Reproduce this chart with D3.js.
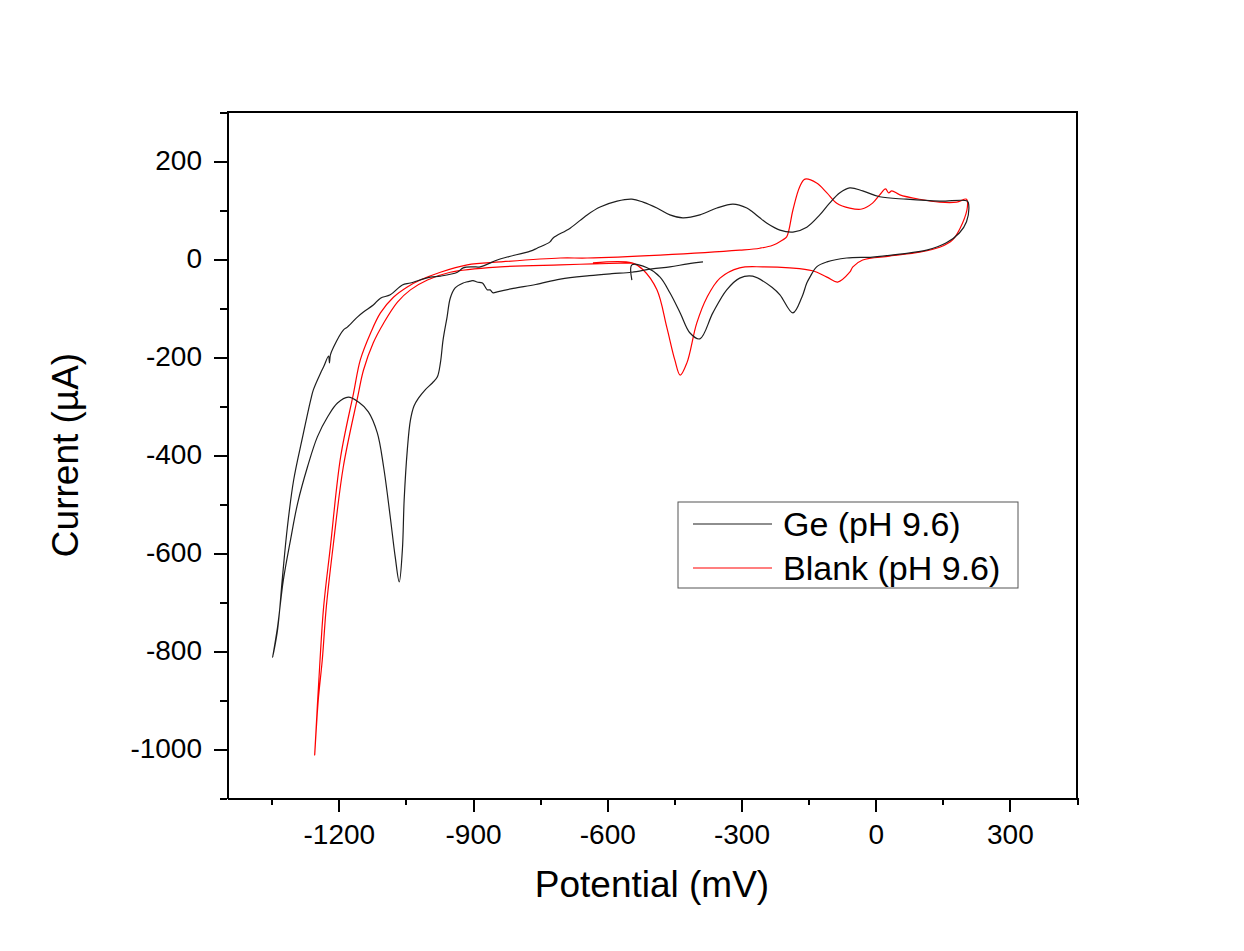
<!DOCTYPE html>
<html lang="en">
<head>
<meta charset="utf-8">
<title>Cyclic voltammogram</title>
<script src="https://cdn.jsdelivr.net/npm/d3@7"></script>
<style>
  body { margin: 0; background: #fff; }
  svg { font-family: "Liberation Sans", Arial, sans-serif; }
  .axis path, .axis line { stroke: #000; stroke-width: 2; shape-rendering: crispEdges; }
  .axis text { font-size: 28px; fill: #000; }
</style>
</head>
<body>
<script>
// data: potential (mV) and current (uA)
var geE = [-386,-420,-460,-500,-545,-590,-640,-705,-760,-810,-846,-855,-862,-868,-879,-891,-900,-906,-915,-922,-940,-951,-958,-967,-973,-980,-991,-1007,-1022,-1032,-1040,-1047,-1054,-1058,-1065,-1074,-1085,-1100,-1114,-1134,-1156,-1179,-1203,-1225,-1248,-1270,-1292,-1308,-1324,-1337,-1348,
  -1337,-1326,-1315,-1301,-1281,-1263,-1257,-1241,-1234,-1223,-1221,-1219,-1212,-1190,-1181,-1158,-1145,-1123,-1107,-1085,-1058,-1040,-996,-973,-935,-922,-900,-884,-846,-824,-772,-757,-728,-721,-683,-645,-616,-578,-545,-520,-489,-460,-431,-393,-355,-319,-288,-275,-259,-243,-214,-185,-154,-125,-103,-80,-58,-29,9,69,143,205,
  208,203,187,158,114,54,-7,-65,-109,-132,-147,-154,-165,-185,-214,-230,-275,-304,-333,-364,-393,-415,-437,-460,-482,-511,-545,-545];
var geI = [-6,-10,-16,-20,-27,-30,-34,-41,-52,-60,-67,-69,-63,-63,-49,-47,-44,-45,-47,-49,-59,-80,-118,-165,-212,-241,-253,-267,-284,-300,-329,-390,-492,-594,-659,-608,-527,-424,-355,-312,-292,-282,-294,-322,-363,-424,-498,-573,-655,-751,-813,
  -757,-649,-547,-451,-363,-288,-267,-233,-220,-198,-212,-196,-180,-145,-139,-118,-108,-94,-80,-73,-53,-49,-37,-35,-27,-18,-16,-16,-2,4,16,22,35,43,63,90,106,118,122,116,104,90,84,90,104,112,104,96,84,73,59,55,65,90,114,135,145,139,127,122,118,118,
  110,76,53,33,18,10,4,2,-6,-16,-37,-49,-78,-110,-73,-59,-35,-39,-63,-110,-163,-151,-110,-69,-37,-18,-12,-43];

var blankE = [-545,-632,-705,-839,-951,-1002,-1040,-1069,-1100,-1123,-1145,-1158,-1190,-1212,-1228,-1237,-1246,-1254,
  -1243,-1234,-1219,-1196,-1167,-1152,-1129,-1107,-1078,-1047,-1018,-973,-913,-839,-705,-645,-482,-304,-259,-230,-208,-199,-185,-170,-158,-132,-109,-87,-58,-31,-7,9,22,29,36,54,98,143,181,203,
  205,194,172,143,98,31,-29,-51,-58,-85,-109,-141,-192,-252,-304,-348,-377,-400,-422,-437,-449,-467,-489,-520,-545,-632];
var blankI = [-8,-10,-12,-16,-27,-43,-63,-88,-131,-171,-227,-282,-424,-580,-710,-818,-900,-1012,
  -833,-710,-588,-404,-273,-206,-151,-110,-78,-57,-43,-27,-12,-6,2,2,8,18,22,28,39,45,100,147,163,155,135,114,104,102,114,131,143,135,139,131,122,116,116,122,
  106,73,39,24,14,6,-2,-16,-27,-47,-37,-24,-18,-16,-18,-39,-78,-131,-212,-237,-206,-139,-63,-22,-8,-8];

var seriesNames = ["Ge (pH 9.6)", "Blank (pH 9.6)"];
var seriesColors = ["#1e1e1e", "#ff0000"];

var xMajor = [-1200, -900, -600, -300, 0, 300];
var xMinor = [-1350, -1050, -750, -450, -150, 150, 450];
var yMajor = [200, 0, -200, -400, -600, -800, -1000];
var yMinor = [300, 100, -100, -300, -500, -700, -900, -1100];

var w = 1244, h = 951;
var plotLeft = 227, plotRight = 1077, plotTop = 112, plotBottom = 798;

var svg = d3.select("body").append("svg").attr("width", w).attr("height", h);

var xScale = d3.scaleLinear().domain([-1450, 450]).range([plotLeft, plotRight]);
var yScale = d3.scaleLinear().domain([-1100, 300]).range([plotBottom, plotTop]);

var fmt = function(d) { return String(d); };

// minor ticks first, then major axes on top
svg.append("g").attr("class", "axis").attr("transform", "translate(0," + plotBottom + ")")
  .call(d3.axisBottom(xScale).tickValues(xMinor).tickSize(7).tickFormat(""))
  .select(".domain").remove();
svg.append("g").attr("class", "axis").attr("transform", "translate(" + plotLeft + ",0)")
  .call(d3.axisLeft(yScale).tickValues(yMinor).tickSize(7).tickFormat(""))
  .select(".domain").remove();

svg.append("g").attr("class", "axis").attr("transform", "translate(0," + plotBottom + ")")
  .call(d3.axisBottom(xScale).tickValues(xMajor).tickSize(14).tickSizeOuter(0).tickPadding(12).tickFormat(fmt));
svg.append("g").attr("class", "axis").attr("transform", "translate(" + plotLeft + ",0)")
  .call(d3.axisLeft(yScale).tickValues(yMajor).tickSize(13).tickSizeOuter(0).tickPadding(12).tickFormat(fmt));

// top and right frame
svg.append("path")
  .attr("d", "M" + plotLeft + "," + plotTop + "H" + plotRight + "V" + plotBottom)
  .attr("fill", "none").attr("stroke", "#000").attr("stroke-width", 2)
  .attr("shape-rendering", "crispEdges");

var line = d3.line()
  .curve(d3.curveCatmullRom.alpha(0.5))
  .x(function(d) { return xScale(d[0]); })
  .y(function(d) { return yScale(d[1]); });

var plot = svg.append("g");
plot.append("path")
  .datum(d3.zip(blankE, blankI))
  .attr("d", line).attr("fill", "none")
  .attr("stroke", seriesColors[1]).attr("stroke-width", 1.2);
plot.append("path")
  .datum(d3.zip(geE, geI))
  .attr("d", line).attr("fill", "none")
  .attr("stroke", seriesColors[0]).attr("stroke-width", 1.2);

// axis titles
svg.append("text")
  .attr("x", (plotLeft + plotRight) / 2).attr("y", 897)
  .attr("text-anchor", "middle").attr("font-size", 37)
  .text("Potential (mV)");
svg.append("text")
  .attr("transform", "translate(78," + (plotTop + plotBottom) / 2 + ") rotate(-90)")
  .attr("text-anchor", "middle").attr("font-size", 37)
  .text("Current (\u00b5A)");

// legend
var lg = svg.append("g");
lg.append("rect")
  .attr("x", 678).attr("y", 502).attr("width", 340).attr("height", 86)
  .attr("fill", "#fff").attr("stroke", "#555").attr("stroke-width", 1);
seriesNames.forEach(function(name, i) {
  var yy = 524 + i * 44;
  lg.append("line")
    .attr("x1", 693).attr("x2", 772).attr("y1", yy).attr("y2", yy)
    .attr("stroke", seriesColors[i]).attr("stroke-width", 1.2);
  lg.append("text")
    .attr("x", 783).attr("y", yy + 12)
    .attr("font-size", 34)
    .text(name);
});
</script>
</body>
</html>
